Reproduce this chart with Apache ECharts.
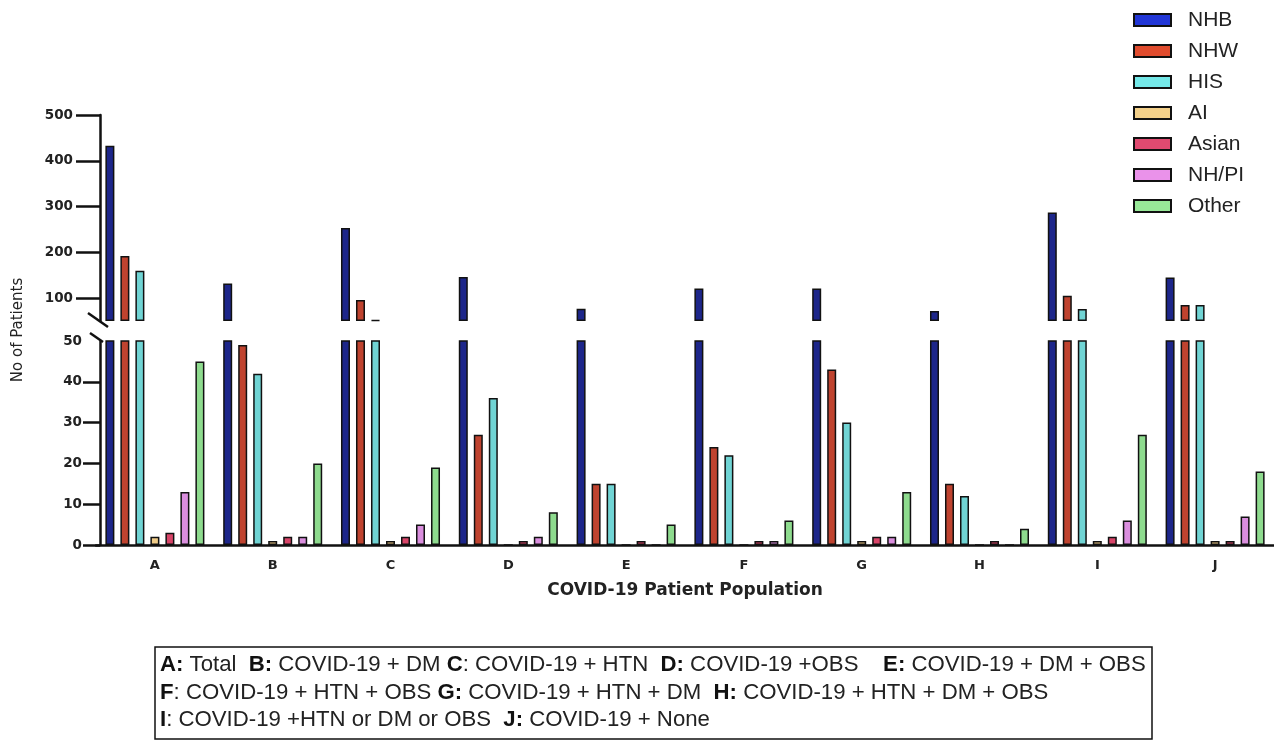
<!DOCTYPE html>
<html><head><meta charset="utf-8">
<script src="https://cdn.jsdelivr.net/npm/echarts@6/dist/echarts.min.js"></script>
<style>html,body{margin:0;padding:0;background:#fff}#c{width:1274px;height:740px}</style>
</head><body><div id="c"></div>
<script>
const categories = ['A','B','C','D','E','F','G','H','I','J'];
const seriesNames = ['NHB','NHW','HIS','AI','Asian','NH/PI','Other'];
const NHB   = [433,132,253,146,77,121,121,72,287,145];
const NHW   = [192,49,96,27,15,24,43,15,105,85];
const HIS   = [160,42,52,36,15,22,30,12,76,85];
const AI    = [2,1,1,0,0,0,1,0,1,1];
const Asian = [3,2,2,1,1,1,2,1,2,1];
const NHPI  = [13,2,5,2,0,1,2,0,6,7];
const Other = [45,20,19,8,5,6,13,4,27,18];
const upperTicks = [100,200,300,400,500];
const lowerTickMarks = [0,10,20,30,40];
const lowerLabels = [0,10,20,30,40,50];
const breakValue = 50;
const xTitle = 'COVID-19 Patient Population';
const yTitle = 'No of Patients';
const footnoteLines = [
  '{b|A:} Total  {b|B:} COVID-19 + DM {b|C}: COVID-19 + HTN  {b|D:} COVID-19 +OBS    {b|E:} COVID-19 + DM + OBS',
  '{b|F}: COVID-19 + HTN + OBS {b|G:} COVID-19 + HTN + DM  {b|H:} COVID-19 + HTN + DM + OBS',
  '{b|I}: COVID-19 +HTN or DM or OBS  {b|J:} COVID-19 + None'
];

const values = [NHB, NHW, HIS, AI, Asian, NHPI, Other];
const colors = ['#1d268a','#bf432f','#70d4d4','#f0cc88','#d84468','#da8ede','#8edb8e'];
const legendColors = ['#2236d6','#e04c2e','#74e8e8','#f3d08a','#e04a70','#ea92ea','#98e898'];

const FONT = 'Liberation Sans, Arial, sans-serif';
const WIDE = 'DejaVu Sans, sans-serif';
const chart = echarts.init(document.getElementById('c'));

const series = [];
seriesNames.forEach((name, i) => {
  const common = {
    type: 'bar', name, barWidth: 9, barGap: '66.7%', clip: true,
    itemStyle: { color: colors[i], borderColor: '#111', borderWidth: 1.5 },
    emphasis: { disabled: true }
  };
  series.push(Object.assign({}, common, {
    xAxisIndex: 0, yAxisIndex: 0,
    data: values[i].map(v => v > breakValue ? v : '-')
  }));
  series.push(Object.assign({}, common, {
    xAxisIndex: 1, yAxisIndex: 1,
    data: values[i]
  }));
});

const axisLineStyle = { color: '#111', width: 2.5 };
const labelStyle = { fontFamily: WIDE, fontWeight: 'bold', fontSize: 13.5, color: '#222' };

chart.setOption({
  animation: false,
  backgroundColor: '#fff',
  grid: [
    { left: 96, width: 1184, top: 115, height: 206 },
    { left: 96, width: 1184, top: 341, height: 204 }
  ],
  xAxis: [
    { gridIndex: 0, type: 'category', data: categories, show: false },
    { gridIndex: 1, type: 'category', data: categories,
      axisLine: { lineStyle: axisLineStyle },
      axisTick: { alignWithLabel: true, length: 9, lineStyle: { color: '#111', width: 2.5 } },
      axisLabel: Object.assign({}, labelStyle, { margin: 14, fontSize: 13 }),
      name: xTitle, nameLocation: 'middle', nameGap: 37,
      nameTextStyle: { fontFamily: WIDE, fontWeight: 'bold', fontSize: 17, color: '#222' }
    }
  ],
  yAxis: [
    { gridIndex: 0, type: 'value', min: 50, max: 500, startValue: 50, offset: -4,
      axisLine: { show: true, lineStyle: axisLineStyle },
      axisTick: { show: true, length: 24, customValues: upperTicks, lineStyle: { color: '#111', width: 2.5 } },
      axisLabel: Object.assign({ margin: 27, customValues: upperTicks }, labelStyle),
      splitLine: { show: false }
    },
    { gridIndex: 1, type: 'value', min: 0, max: 50, interval: 10, offset: -4,
      axisLine: { show: true, lineStyle: axisLineStyle },
      axisTick: { show: true, length: 17, customValues: lowerTickMarks, lineStyle: { color: '#111', width: 2.5 } },
      axisLabel: Object.assign({ margin: 18, customValues: lowerLabels }, labelStyle),
      splitLine: { show: false }
    }
  ],
  legend: {
    orient: 'vertical', left: 1133, top: 9.5, padding: 0,
    itemWidth: 37, itemHeight: 12, itemGap: 10, icon: 'rect',
    data: seriesNames.map((n, i) => ({ name: n, itemStyle: { color: legendColors[i], borderColor: '#111', borderWidth: 2 } })),
    textStyle: { fontFamily: FONT, fontSize: 21, lineHeight: 21, color: '#222', padding: [0, 0, 0, 12] }
  },
  graphic: [
    { type: 'line', shape: { x1: 88, y1: 313, x2: 108, y2: 327 }, style: { stroke: '#111', lineWidth: 2.5 } },
    { type: 'line', shape: { x1: 90, y1: 333, x2: 103, y2: 342 }, style: { stroke: '#111', lineWidth: 2.5 } },
    { type: 'text', x: 18, y: 330, rotation: Math.PI / 2,
      style: { text: yTitle, font: '15px ' + WIDE, fill: '#222', textAlign: 'center', textVerticalAlign: 'middle' } },
    { type: 'rect', shape: { x: 155, y: 647, width: 997, height: 92 },
      style: { fill: 'none', stroke: '#111', lineWidth: 1.5 } },
    { type: 'text', x: 160, y: 651.5,
      style: { text: footnoteLines.join('\n'), font: '22.2px ' + FONT, fill: '#222', lineHeight: 27.5,
        rich: { b: { fontWeight: 'bold', fontSize: 22.2, fontFamily: FONT, fill: '#111', lineHeight: 27.5 } } } }
  ],
  series
});
</script></body></html>
